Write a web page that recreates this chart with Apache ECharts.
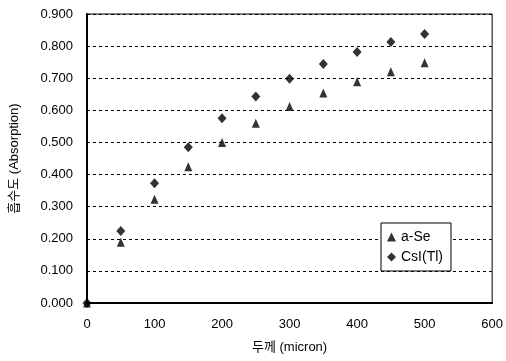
<!DOCTYPE html>
<html>
<head>
<meta charset="utf-8">
<script src="https://cdn.jsdelivr.net/npm/echarts@6/dist/echarts.min.js"></script>
<style>
  html, body { margin: 0; padding: 0; background: #fff; }
  #chart { width: 506px; height: 361px; }
</style>
</head>
<body>
<div id="chart"></div>
<script>
// 두께 (micron)
const thickness = [0, 50, 100, 150, 200, 250, 300, 350, 400, 450, 500];
// 흡수도
const aSe = [0, 0.189, 0.323, 0.424, 0.500, 0.560, 0.612, 0.654, 0.689, 0.720, 0.748];
const csiTl = [0, 0.224, 0.373, 0.485, 0.575, 0.643, 0.698, 0.744, 0.782, 0.813, 0.838];

const font = '"Liberation Sans", Arial, "Noto Sans CJK KR", sans-serif';

const chart = echarts.init(document.getElementById('chart'), null, { renderer: 'canvas' });

const option = {
	animation: false,
	backgroundColor: '#fff',
	textStyle: { fontFamily: font, color: '#000' },
	grid: {
		left: 87,
		right: 12,
		top: 14,
		bottom: 58,
		show: true,
		borderColor: '#000',
		borderWidth: 1,
		containLabel: false
	},
	legend: {
		orient: 'vertical',
		left: 381,
		top: 223,
		itemWidth: 9,
		itemHeight: 9,
		itemGap: 6,
		padding: [7, 8, 7, 6],
		borderColor: '#000',
		borderWidth: 1,
		backgroundColor: '#fff',
		textStyle: { fontFamily: font, fontSize: 14, color: '#000' },
		data: [
			{ name: 'a-Se', icon: 'triangle' },
			{ name: 'CsI(Tl)', icon: 'diamond' }
		]
	},
	xAxis: {
		type: 'value',
		min: 0,
		max: 600,
		interval: 100,
		name: '두께 (micron)',
		nameLocation: 'middle',
		nameGap: 38,
		nameTextStyle: { fontFamily: font, fontSize: 13, color: '#000' },
		axisLine: { show: true, lineStyle: { color: '#000', width: 2 } },
		axisTick: { show: false },
		splitLine: { show: false },
		axisLabel: { fontFamily: font, fontSize: 13, color: '#000', margin: 15 }
	},
	yAxis: {
		type: 'value',
		min: 0,
		max: 0.9,
		interval: 0.1,
		name: '흡수도 (Absorption)',
		nameLocation: 'middle',
		nameGap: 66,
		nameRotate: 90,
		nameTextStyle: { fontFamily: font, fontSize: 13, color: '#000' },
		axisLine: { show: true, lineStyle: { color: '#000', width: 2 } },
		axisTick: { show: false },
		splitLine: { show: true, lineStyle: { color: '#000', type: [3, 3], width: 1 } },
		axisLabel: {
			fontFamily: font, fontSize: 13, color: '#000', margin: 14,
			formatter: (v) => v.toFixed(3)
		}
	},
	series: [
		{
			name: 'a-Se',
			type: 'scatter',
			symbol: 'triangle',
			symbolSize: [8, 9],
			itemStyle: { color: '#000' },
			data: thickness.map((x, i) => [x, aSe[i]])
		},
		{
			name: 'CsI(Tl)',
			type: 'scatter',
			symbol: 'diamond',
			symbolSize: [9, 10],
			itemStyle: { color: '#000' },
			data: thickness.map((x, i) => [x, csiTl[i]])
		}
	]
};

chart.setOption(option);
</script>
</body>
</html>
